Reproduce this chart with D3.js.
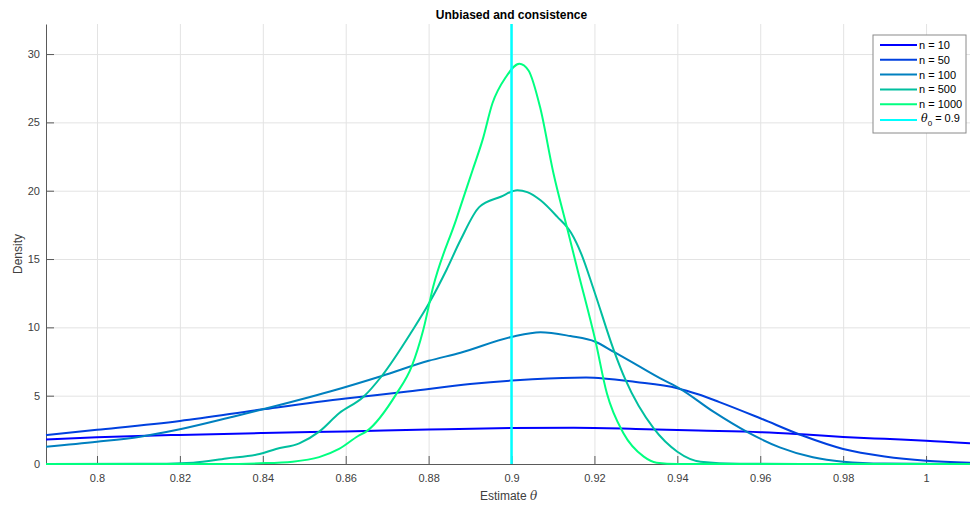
<!DOCTYPE html>
<html>
<head>
<meta charset="utf-8">
<script src="https://cdn.jsdelivr.net/npm/d3@7"></script>
<style>
  body { margin: 0; background: #fff; }
  svg { font-family: "Liberation Sans", Arial, Helvetica, sans-serif; }
  .grid line { stroke: #e3e3e3; stroke-width: 1; }
  .grid path { display: none; }
  .axis path, .axis line { stroke: #5a5a5a; stroke-width: 1; }
  .axis text { fill: #404040; font-size: 11px; }
</style>
</head>
<body>
<div id="chart"></div>
<script>
// data: [estimate, density]
const n10 = [[0.7877,1.80],[0.80,1.95],[0.82,2.13],[0.84,2.27],[0.86,2.38],[0.88,2.52],[0.90,2.63],
  [0.915,2.65],[0.93,2.57],[0.945,2.45],[0.96,2.33],[0.97,2.17],[0.98,1.98],[0.99,1.84],[1.00,1.71],[1.0106,1.51]];
const n50 = [[0.7877,2.12],[0.80,2.50],[0.82,3.15],[0.84,4.00],[0.86,4.80],[0.875,5.30],[0.89,5.85],
  [0.905,6.20],[0.918,6.33],[0.93,6.00],[0.94,5.55],[0.945,5.10],[0.95,4.55],[0.96,3.35],[0.97,2.10],
  [0.98,1.10],[0.99,0.55],[1.00,0.24],[1.0106,0.10]];
const n100 = [[0.7877,1.27],[0.80,1.63],[0.8104,2.00],[0.82,2.54],[0.8328,3.46],[0.84,4.00],[0.8562,5.30],
  [0.8687,6.44],[0.88,7.55],[0.8877,8.14],[0.90,9.30],[0.907,9.65],[0.9142,9.36],[0.9202,8.95],[0.9247,8.20],
  [0.9303,7.24],[0.9359,6.27],[0.9407,5.50],[0.9487,3.83],[0.9567,2.37],[0.9647,1.22],[0.9727,0.49],
  [0.98,0.17],[0.99,0.03],[1.0106,0]];
const n500 = [[0.7877,0],[0.81,0.01],[0.8232,0.10],[0.8312,0.41],[0.8392,0.73],[0.8432,1.10],[0.8488,1.51],
  [0.8536,2.37],[0.8584,3.71],[0.8643,4.92],[0.8687,6.44],[0.8759,9.68],[0.8803,11.87],[0.8843,14.2],
  [0.8877,16.39],[0.8922,18.8],[0.8974,19.56],[0.9014,20.04],[0.9038,19.9],[0.907,19.3],[0.911,18.1],
  [0.9144,16.9],[0.9168,15.4],[0.9199,12.7],[0.9247,8.3],[0.9275,6.15],[0.9343,2.6],[0.940,0.9],
  [0.9456,0.17],[0.955,0.02],[0.97,0],[1.0106,0]];
const n1000 = [[0.7877,0],[0.83,0],[0.8392,0.05],[0.8472,0.17],[0.8536,0.5],[0.8584,1.1],[0.863,2.05],
  [0.8651,2.41],[0.8723,5.17],[0.8759,7.12],[0.8787,9.8],[0.8811,12.97],[0.8866,17.85],[0.8906,21.5],
  [0.8930,23.7],[0.8954,26.4],[0.8986,28.3],[0.9019,29.3],[0.9041,28.8],[0.9069,26.1],[0.9101,21.3],
  [0.9133,17.4],[0.9161,14.0],[0.9202,9.07],[0.9230,5.17],[0.9270,2.25],[0.9319,0.54],[0.935,0.1],
  [0.94,0],[1.0106,0]];
const theta0 = 0.9;

const seriesNames = ["n = 10", "n = 50", "n = 100", "n = 500", "n = 1000"];
const seriesData = [n10, n50, n100, n500, n1000];
const xTicks = [0.8, 0.82, 0.84, 0.86, 0.88, 0.9, 0.92, 0.94, 0.96, 0.98, 1];
const yTicks = [0, 5, 10, 15, 20, 25, 30];

// winter colormap
const colors = ["#0000ff", "#0040df", "#0080bf", "#00bf9f", "#00ff80"];
const thetaColor = "#00ffff";

const margin = {top: 24, right: 0, bottom: 42, left: 46},
      width = 970 - margin.left - margin.right,
      height = 506 - margin.top - margin.bottom;

const root = d3.select("#chart")
  .append("svg")
    .attr("width", 970)
    .attr("height", 506);

const svg = root.append("g")
    .attr("transform", `translate(${margin.left},${margin.top})`);

const x = d3.scaleLinear().domain([0.7877, 1.0106]).range([0, width]);
const y = d3.scaleLinear().domain([0, 32.2]).range([height, 0]);

// grid
svg.append("g")
    .attr("class", "grid")
    .attr("transform", `translate(0,${height})`)
    .call(d3.axisBottom(x).tickValues(xTicks).tickSize(-height).tickFormat(""));
svg.append("g")
    .attr("class", "grid")
    .call(d3.axisLeft(y).tickValues(yTicks).tickSize(-width).tickFormat(""));

// axes (ticks pointing inward)
svg.append("g")
    .attr("class", "axis")
    .attr("transform", `translate(0,${height})`)
    .call(d3.axisBottom(x).tickValues(xTicks).tickSizeInner(-8).tickSizeOuter(0).tickPadding(10)
      .tickFormat(d3.format("~g")));
svg.append("g")
    .attr("class", "axis")
    .call(d3.axisLeft(y).tickValues(yTicks).tickSizeInner(-8).tickSizeOuter(0).tickPadding(6));

// density curves
const line = d3.line()
    .x(d => x(d[0]))
    .y(d => y(d[1]))
    .curve(d3.curveMonotoneX);

svg.selectAll(".curve")
  .data(seriesData)
  .enter().append("path")
    .attr("class", "curve")
    .attr("d", line)
    .attr("fill", "none")
    .attr("stroke", (d, i) => colors[i])
    .attr("stroke-width", 2);

// true value
svg.append("line")
    .attr("x1", x(theta0)).attr("x2", x(theta0))
    .attr("y1", y(0)).attr("y2", 0)
    .attr("stroke", thetaColor)
    .attr("stroke-width", 2.5);

// title and labels
root.append("text")
    .attr("x", margin.left + x(0.9))
    .attr("y", 19)
    .attr("text-anchor", "middle")
    .style("font-size", "12px")
    .style("font-weight", "bold")
    .attr("fill", "#000")
    .text("Unbiased and consistence");

const xl = root.append("text")
    .attr("x", margin.left + x(0.9) - 3)
    .attr("y", 500)
    .attr("text-anchor", "middle")
    .style("font-size", "12px")
    .attr("fill", "#404040");
xl.append("tspan").text("Estimate ");
xl.append("tspan").style("font-style", "italic").style("font-family", "'DejaVu Serif', serif").text("θ");

root.append("text")
    .attr("transform", "rotate(-90)")
    .attr("x", -254)
    .attr("y", 22)
    .attr("text-anchor", "middle")
    .style("font-size", "12px")
    .attr("fill", "#404040")
    .text("Density");

// legend
const legend = root.append("g").attr("transform", "translate(873,35)");
legend.append("rect")
    .attr("width", 93).attr("height", 98)
    .attr("fill", "#fff")
    .attr("stroke", "#8a8a8a");

const legendRows = seriesNames.map((s, i) => ({label: s, color: colors[i], y: 10 + i * 14.8}));
legendRows.push({label: null, color: thetaColor, y: 85});

const rows = legend.selectAll(".row")
  .data(legendRows)
  .enter().append("g")
    .attr("transform", d => `translate(0,${d.y})`);

rows.append("line")
    .attr("x1", 7).attr("x2", 44)
    .attr("stroke", d => d.color)
    .attr("stroke-width", 2);

rows.filter(d => d.label)
  .append("text")
    .attr("x", 46).attr("y", 4)
    .style("font-size", "11px")
    .attr("fill", "#000")
    .text(d => d.label);

const th = rows.filter(d => !d.label)
  .append("text")
    .attr("x", 48).attr("y", 2)
    .style("font-size", "11px")
    .attr("fill", "#000");
th.append("tspan").style("font-style", "italic").style("font-family", "'DejaVu Serif', serif").text("θ");
th.append("tspan").attr("dy", 4).style("font-size", "8px").text("0");
th.append("tspan").attr("dy", -4).text(" = 0.9");
</script>
</body>
</html>
